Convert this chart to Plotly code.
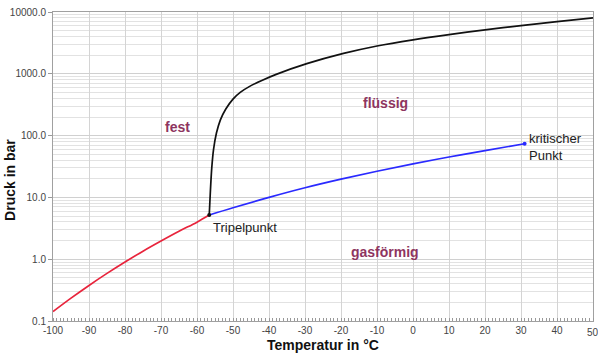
import plotly.graph_objects as go

# Sublimation curve (solid-gas)
subl_T = [-100, -95, -90, -85, -80, -75, -70, -65, -60, -56.6]
subl_p = [0.142, 0.234, 0.376, 0.589, 0.90, 1.35, 1.97, 2.83, 3.98, 5.18]

# Vapour pressure curve (liquid-gas)
vap_T = [-56.6, -50, -40, -30, -20, -10, 0, 10, 20, 31]
vap_p = [5.18, 6.8, 10.0, 14.3, 19.7, 26.5, 34.9, 45.0, 57.3, 73.8]

# Melting curve (solid-liquid)
melt_T = [-56.6, -56.3, -55.9, -55.4, -54.6, -53.5, -52.0, -50.0, -48.0, -45.5, -42.0, -38.0,
          -29.5, -19.3, -10, 0, 10, 20, 30, 40, 50]
melt_p = [5.18, 12, 30, 60, 110, 180, 270, 390, 500, 620, 780, 980,
          1460, 2140, 2820, 3550, 4315, 5130, 6030, 7000, 8035]

y_ticks = [0.1, 1, 10, 100, 1000, 10000]
y_tick_labels = ["0.1", "1.0", "10.0", "100.0", "1000.0", "10000.0"]
x_ticks = list(range(-100, 51, 10))
x_tick_labels = [str(v) for v in x_ticks[:-1]] + [""]

minor_y = [k * 10 ** d for d in range(-1, 4) for k in range(2, 10)]

fig = go.Figure()
fig.add_trace(go.Scatter(x=subl_T, y=subl_p, mode="lines",
                         line=dict(color="#e8243c", width=1.7, shape="spline"),
                         hoverinfo="skip"))
fig.add_trace(go.Scatter(x=vap_T, y=vap_p, mode="lines",
                         line=dict(color="#2a2aff", width=1.7, shape="spline"),
                         hoverinfo="skip"))
fig.add_trace(go.Scatter(x=melt_T, y=melt_p, mode="lines",
                         line=dict(color="#111111", width=1.7, shape="spline", smoothing=0.8),
                         hoverinfo="skip"))
fig.add_trace(go.Scatter(x=[melt_T[0]], y=[melt_p[0]], mode="markers",
                         marker=dict(color="#111111", size=4), hoverinfo="skip"))
fig.add_trace(go.Scatter(x=[vap_T[-1]], y=[vap_p[-1]], mode="markers",
                         marker=dict(color="#2a2aff", size=4), hoverinfo="skip"))

lab_font = dict(family="Liberation Sans, Arial, sans-serif", size=14, color="#8e3560")
txt_font = dict(family="Liberation Sans, Arial, sans-serif", size=13, color="#222222")
fig.add_annotation(x=-65.3, y=2.144, text="<b>fest</b>", showarrow=False, font=lab_font)
fig.add_annotation(x=-7.7, y=2.533, text="<b>flüssig</b>", showarrow=False, font=lab_font)
fig.add_annotation(x=-7.7, y=0.118, text="<b>gasförmig</b>", showarrow=False, font=lab_font)
fig.add_annotation(x=-56.2, y=0.507, text="Tripelpunkt", showarrow=False, font=txt_font,
                   xanchor="left")
fig.add_annotation(x=31.8, y=1.812, text="kritischer<br>Punkt", showarrow=False,
                   font=txt_font, xanchor="left", align="left")
# last x tick label, partially clipped by the right edge as in the original
fig.add_annotation(x=x_ticks[-1], xref="x", yref="paper", y=-0.037, text=str(x_ticks[-1]),
                   showarrow=False, yanchor="middle", xanchor="center",
                   font=dict(family="Liberation Sans, Arial, sans-serif", size=10, color="#444444"))

title_font = dict(family="Liberation Sans, Arial, sans-serif", size=14, color="#111111")
fig.add_annotation(xref="paper", yref="paper", x=0.5, y=-0.078, text="<b>Temperatur in °C</b>",
                   showarrow=False, font=title_font, yanchor="middle")
fig.add_annotation(xref="paper", yref="paper", x=-0.08, y=0.456, text="<b>Druck in bar</b>",
                   showarrow=False, font=title_font, textangle=-90, xanchor="center")

fig.update_layout(
    width=598, height=353,
    margin=dict(l=53, r=5, t=12, b=32, autoexpand=False),
    paper_bgcolor="white", plot_bgcolor="white",
    showlegend=False,
    font=dict(family="Liberation Sans, Arial, sans-serif", size=10, color="#444444"),
    xaxis=dict(range=[-100, 50], tickvals=x_ticks, ticktext=x_tick_labels,
               showgrid=True, gridcolor="#d4d4d4",
               gridwidth=1, showline=True, linecolor="#a0a0a0", mirror=True,
               ticks="", zeroline=False, automargin=False,
               minor=dict(dtick=1, ticks="inside", ticklen=3, tickcolor="#999999", showgrid=False)),
    yaxis=dict(type="log", range=[-1, 4], tickvals=y_ticks, ticktext=y_tick_labels,
               showgrid=True, gridcolor="#d0d0d0", gridwidth=1, showline=True,
               linecolor="#a0a0a0", mirror=True, ticks="outside", ticklen=4,
               tickcolor="#999999", zeroline=False, automargin=False,
               minor=dict(tickvals=minor_y, showgrid=True, gridcolor="#e2e2e2", ticks="")),
)

fig.write_html("out.html", config={"displayModeBar": False},
               post_script="document.body.style.margin='0';document.body.style.overflow='hidden';")
